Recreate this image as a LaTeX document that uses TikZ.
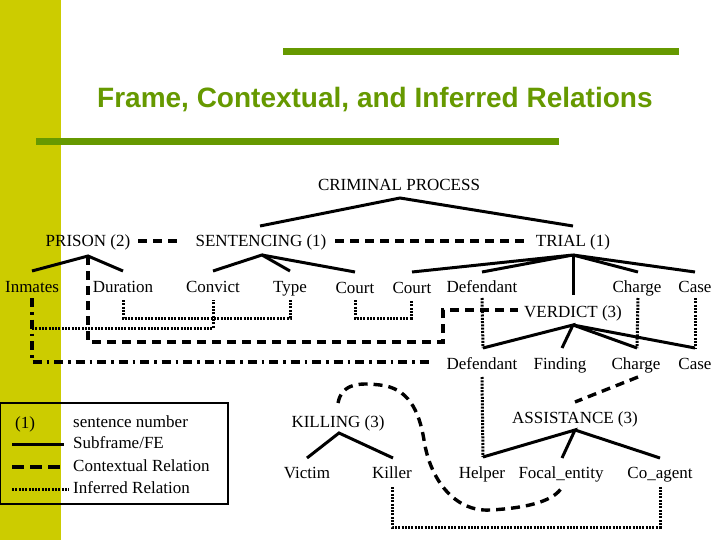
\documentclass[tikz,border=0pt]{standalone}
\usepackage{fontspec}
\setmainfont{Liberation Serif}
\newfontfamily\titlefont{Liberation Sans}
\definecolor{band}{RGB}{204,204,0}
\definecolor{titlegreen}{RGB}{102,153,0}
\begin{document}
\begin{tikzpicture}[x=1pt,y=-1pt,
 lbl/.style={anchor=base, inner sep=0pt, font=\fontsize{17}{20}\selectfont},
 leg/.style={anchor=base west, inner sep=0pt, font=\fontsize{17}{20}\selectfont},
 sub/.style={line width=3pt},
 ctx/.style={line width=3.4pt, dash pattern=on 9pt off 6pt},
 inf/.style={line width=3pt, dash pattern=on 2pt off 1.3pt},
 ddot/.style={line width=3.4pt, dash pattern=on 9pt off 5pt on 2.5pt off 5pt},
 greenbar/.style={line width=7pt, titlegreen}]
\useasboundingbox (0,0) rectangle (720,540);
\fill[band] (0,0) rectangle (61,540);
\draw[greenbar] (283,51.5) -- (679,51.5);
\draw[greenbar] (36,141.5) -- (559,141.5);
\node[anchor=base west, inner sep=0pt, font=\titlefont\bfseries\fontsize{28}{32}\selectfont, text=titlegreen] (title) at (97,108) {Frame, Contextual, and Inferred Relations};

% labels
\node[lbl] (crim) at (399,191) {CRIMINAL PROCESS};
\node[lbl] (prison) at (88,247) {PRISON (2)};
\node[lbl] (sent) at (261,247) {SENTENCING (1)};
\node[lbl] (trial) at (573,247) {TRIAL (1)};
\node[lbl] (inmates) at (32,292) {Inmates};
\node[lbl] (duration) at (123,292) {Duration};
\node[lbl] (convict) at (213,292) {Convict};
\node[lbl] (type) at (290,292) {Type};
\node[lbl] (courtA) at (355,293) {Court};
\node[lbl] (courtB) at (412,293) {Court};
\node[lbl] (defA) at (482,292) {Defendant};
\node[lbl] (chargeA) at (637,292) {Charge};
\node[lbl] (caseA) at (695,292) {Case};
\node[lbl] (verdict) at (573,317) {VERDICT (3)};
\node[lbl] (defB) at (482,369) {Defendant};
\node[lbl] (finding) at (560,369) {Finding};
\node[lbl] (chargeB) at (636,369) {Charge};
\node[lbl] (caseB) at (695,369) {Case};
\node[lbl] (killing) at (338,427) {KILLING (3)};
\node[lbl] (victim) at (307,478) {Victim};
\node[lbl] (killer) at (392,478) {Killer};
\node[lbl] (assist) at (575,423) {ASSISTANCE (3)};
\node[lbl] (helper) at (482,478) {Helper};
\node[lbl] (focal) at (561,478) {Focal\_entity};
\node[lbl] (coagent) at (660,478) {Co\_agent};

% apex and end coordinates
\coordinate (crimA) at (400,198);
\coordinate (sentT) at (260,226);
\coordinate (trialT) at (573,226);
\coordinate (prisonA) at (88,256);
\coordinate (inmatesT) at (32,271);
\coordinate (durationT) at (123,271);
\coordinate (sentA) at (262,255);
\coordinate (convictT) at (213,271);
\coordinate (typeT) at (290,271);
\coordinate (courtAT) at (355,272);
\coordinate (trialA) at (573,255);
\coordinate (courtBT) at (412,272);
\coordinate (defAT) at (482,272);
\coordinate (verdictT) at (573,295);
\coordinate (chargeAT) at (638,272);
\coordinate (caseAT) at (695,272);
\coordinate (verdictA) at (573,325);
\coordinate (defBT) at (483,348);
\coordinate (findingT) at (562,348);
\coordinate (chargeBT) at (637,348);
\coordinate (caseBT) at (695,348);
\coordinate (killingA) at (339,433);
\coordinate (victimT) at (307,458);
\coordinate (killerT) at (393,458);
\coordinate (assistA) at (575,430);
\coordinate (helperT) at (483,457);
\coordinate (focalT) at (562,458);
\coordinate (coagentT) at (660,458);

% subframe / FE
\draw[sub] (sentT) -- (crimA) -- (trialT);
\draw[sub] (inmatesT) -- (prisonA) -- (durationT);
\draw[sub] (convictT) -- (sentA) -- (typeT);
\draw[sub] (sentA) -- (courtAT);
\draw[sub] (courtBT) -- (trialA) -- (defAT);
\draw[sub] (trialA) -- (verdictT);
\draw[sub] (trialA) -- (chargeAT);
\draw[sub] (trialA) -- (caseAT);
\draw[sub] (defBT) -- (verdictA) -- (findingT);
\draw[sub] (verdictA) -- (chargeBT);
\draw[sub] (verdictA) -- (caseBT);
\draw[sub] (victimT) -- (killingA) -- (killerT);
\draw[sub] (helperT) -- (assistA) -- (focalT);
\draw[sub] (assistA) -- (coagentT);

% contextual relations
\coordinate (prisonR) at (138,241);
\coordinate (sentL) at (180,241);
\coordinate (sentR) at (335,241);
\coordinate (trialL) at (527,241);
\coordinate (verdictL) at (518,310);
\coordinate (chargeBB) at (638,377);
\coordinate (assistT) at (575,402);
\coordinate (killingT) at (338,403);
\coordinate (focalB) at (562,487);
\draw[ctx] (prisonR) -- (sentL);
\draw[ctx] (sentR) -- (trialL);
\draw[ctx] (prisonA) -- (88,342) -- (443,342) -- (443,310) -- (verdictL);
\draw[ctx] (chargeBB) -- (assistT);
\draw[ctx] (killingT) .. controls (342,382) and (362,383) .. (380,385)
  .. controls (408,388) and (419,410) .. (424,440)
  .. controls (430,480) and (455,512) .. (490,510)
  .. controls (530,508) and (555,500) .. (focalB);

% dash-dot
\coordinate (inmatesB) at (32,298);
\coordinate (defBL) at (432,362);
\draw[ddot] (inmatesB) -- (32,362) -- (defBL);

% inferred relations
\coordinate (convictB) at (213,300);
\coordinate (durationB) at (123,300);
\coordinate (typeB) at (290,300);
\coordinate (courtAB) at (355,300);
\coordinate (courtBB) at (411,300);
\coordinate (defAB) at (482,298);
\coordinate (chargeAB) at (638,298);
\coordinate (caseAB) at (695,298);
\coordinate (defBB) at (482,377);
\coordinate (killerB) at (392,487);
\coordinate (coagentB) at (660,487);
\draw[inf] (32,328) -- (213,328) -- (convictB);
\draw[inf] (durationB) -- (123,318) -- (290,318) -- (typeB);
\draw[inf] (courtAB) -- (355,318) -- (411,318) -- (courtBB);
\draw[inf] (defAB) -- (defBT);
\draw[inf] (chargeAB) -- (chargeBT);
\draw[inf] (caseAB) -- (caseBT);
\draw[inf] (defBB) -- (helperT);
\draw[inf] (killerB) -- (392,527) -- (660,527) -- (coagentB);

% legend
\draw[line width=1.2pt] (0.6,403) rectangle (228,504);
\node[leg] (l1) at (15,428) {(1)};
\node[leg] (l2) at (73,427) {sentence number};
\node[leg] (l3) at (73,448) {Subframe/FE};
\node[leg] (l4) at (73,471) {Contextual Relation};
\node[leg] (l5) at (73,493) {Inferred Relation};
\coordinate (s1) at (12,444); \coordinate (s2) at (64,444);
\coordinate (d1) at (12,467); \coordinate (d2) at (64,467);
\coordinate (p1) at (12,489); \coordinate (p2) at (69,489);
\draw[sub] (s1) -- (s2);
\draw[line width=3.4pt, dash pattern=on 12pt off 6pt] (d1) -- (d2);
\draw[inf] (p1) -- (p2);
\end{tikzpicture}
\end{document}
